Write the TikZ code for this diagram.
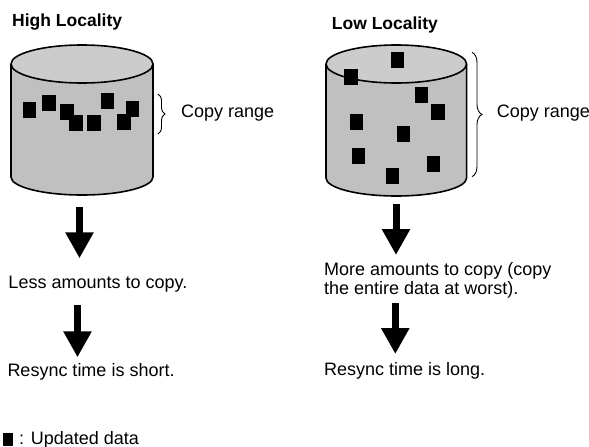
\documentclass[tikz,border=0pt]{standalone}
\usepackage{fontspec}
\setmainfont{Liberation Sans}
\usetikzlibrary{arrows.meta,decorations.pathreplacing}
\definecolor{cylbody}{RGB}{192,192,192}
\definecolor{cyltop}{RGB}{204,204,204}
\begin{document}
\begin{tikzpicture}[x=1pt,y=-1pt,
  txt/.style={anchor=base west, inner sep=0pt, font=\fontsize{18}{18.6}\selectfont},
  ttl/.style={anchor=base west, inner sep=0pt, font=\fontsize{17.5}{18.6}\selectfont\bfseries},
  datum/.style={fill=black},
  cylline/.style={line width=1.6pt, draw=black, line join=round},
  blockarrow/.style={line width=7pt, -{Triangle[width=26.7pt,length=26pt]}},
  copybrace/.style={decorate, decoration={brace, amplitude=#1}, line width=0.9pt}
]
\useasboundingbox (0,0) rectangle (589,447);

% ---------- left cylinder ----------
\fill[cylbody] (11,64) -- (11,177) arc[start angle=180, end angle=0, x radius=71, y radius=18]
  -- (153,64) arc[start angle=0, end angle=-180, x radius=71, y radius=19] -- cycle;
\draw[cylline] (11,64) -- (11,177) arc[start angle=180, end angle=0, x radius=71, y radius=18] -- (153,64);
\draw[cylline, fill=cyltop] (82,64) ellipse[x radius=71, y radius=19];

\foreach \x/\y in {22.7/101.7, 42.3/94.7, 60.3/103.7, 69.3/115.3, 87.3/115.3, 100.7/92.7, 126/100.7, 117.3/114}
  \fill[datum] (\x,\y) rectangle ++(13.3,16);

% ---------- right cylinder ----------
\fill[cylbody] (326,64) -- (326,178) arc[start angle=180, end angle=0, x radius=70.3, y radius=18]
  -- (466.6,64) arc[start angle=0, end angle=-180, x radius=70.3, y radius=19] -- cycle;
\draw[cylline] (326,64) -- (326,178) arc[start angle=180, end angle=0, x radius=70.3, y radius=18] -- (466.6,64);
\draw[cylline, fill=cyltop] (396.3,64) ellipse[x radius=70.3, y radius=19];

\foreach \x/\y in {390.7/52.3, 344.3/69, 414.7/87.3, 431.3/103.7, 350/114, 396.7/125.7, 351.7/148.3, 426.7/155.7, 386/167.7}
  \fill[datum] (\x,\y) rectangle ++(13.3,16);

% ---------- titles ----------
\node[ttl] (hightitle) at (12,26) {High Locality};
\node[ttl] (lowtitle) at (331.7,29.3) {Low Locality};

% ---------- braces ----------
\coordinate (lbt) at (158,94);
\coordinate (lbb) at (158,134);
\draw[copybrace=7pt] (lbt) -- (lbb);
\node[txt] (lrange) at (181,117.3) {Copy range};
\coordinate (rbt) at (472,52.3);
\coordinate (rbb) at (472,176.7);
\draw[copybrace=10pt] (rbt) -- (rbb);
\node[txt] (rrange) at (496.7,117.3) {Copy range};

% ---------- text ----------
\node[txt] (lless) at (8.3,288.3) {Less amounts to copy.};
\node[txt] (lshort) at (7.3,376) {Resync time is short.};
\node[txt, align=left] (rmore) at (324,294.3) {More amounts to copy (copy\\the entire data at worst).};
\node[txt] (rlong) at (324,375) {Resync time is long.};

% ---------- arrows ----------
\coordinate (la1s) at (79.5,207.3); \coordinate (la1e) at (79.5,258.3);
\coordinate (la2s) at (77.5,305);   \coordinate (la2e) at (77.5,357.3);
\coordinate (ra1s) at (396,204);    \coordinate (ra1e) at (396,255);
\coordinate (ra2s) at (395.3,303.3); \coordinate (ra2e) at (395.3,354);
\draw[blockarrow] (la1s) -- (la1e);
\draw[blockarrow] (la2s) -- (la2e);
\draw[blockarrow] (ra1s) -- (ra1e);
\draw[blockarrow] (ra2s) -- (ra2e);

% ---------- legend ----------
\fill[datum] (3.3,432.5) rectangle (13.3,446);
\node[txt] (legend) at (19,444.5) {: Updated data};
\end{tikzpicture}
\end{document}
